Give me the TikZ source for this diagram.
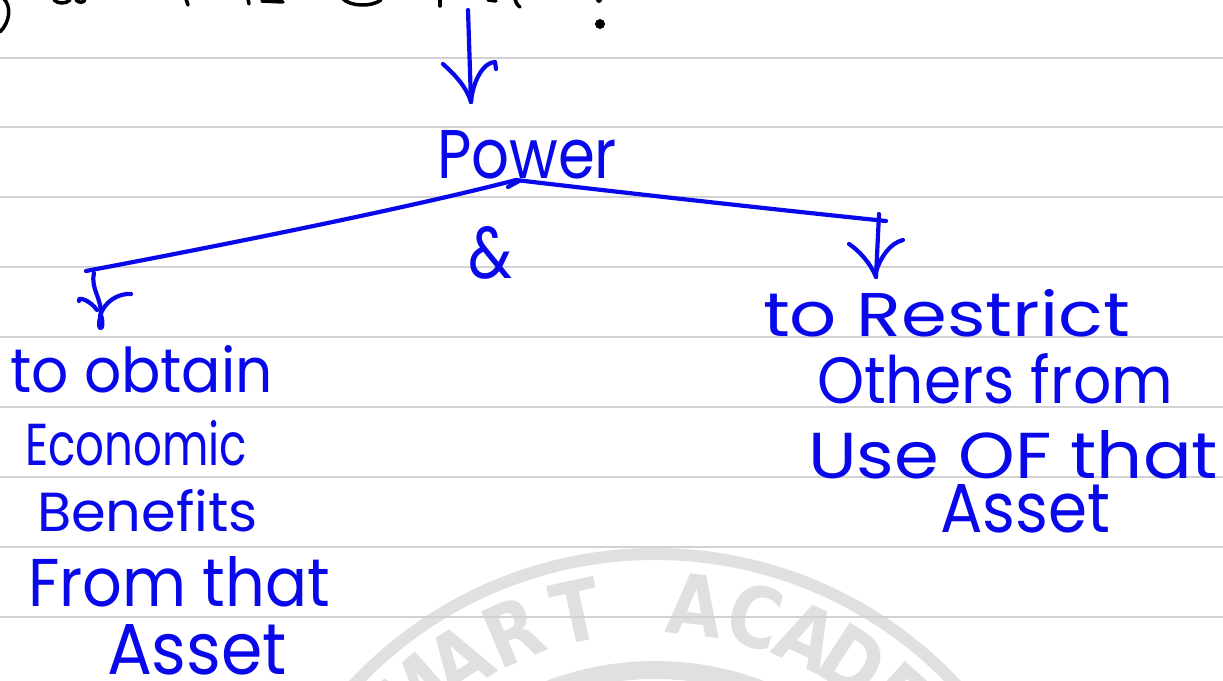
\documentclass[tikz,border=0pt]{standalone}
\usepackage{fontspec}
\setmainfont{Poppins}
\newfontfamily\wmfont{DejaVu Sans}
\usepackage{graphicx}
\definecolor{ink}{RGB}{8,8,235}
\definecolor{ruledgray}{RGB}{210,210,210}
\definecolor{wmgray}{RGB}{224,224,224}
\newcommand{\hw}[3]{\resizebox{#1pt}{#2pt}{#3}}
\begin{document}
\begin{tikzpicture}[x=1pt,y=1pt,
  inkline/.style={draw=ink, line width=4.2pt, line cap=round, line join=round},
  hand/.style={inner sep=0pt, outer sep=0pt, text=ink, anchor=base west},
  wmletter/.style={text=wmgray, anchor=base, inner sep=0pt, font=\wmfont\bfseries\fontsize{84}{84}\selectfont},
  ruled/.style={draw=ruledgray, line width=2pt},
  scribble/.style={draw=black, line width=3.5pt, line cap=round}]
\useasboundingbox (0,-680) rectangle (1223,0);
\clip (0,-680) rectangle (1223,0);
\fill[white] (0,-680) rectangle (1223,0);
% watermark
\coordinate (wmc) at (655,-966);
\draw[wmgray, line width=12pt] (wmc) circle[radius=412];
\draw[wmgray, line width=18pt] (wmc) circle[radius=296];
\foreach \l/\a [count=\i, evaluate=\a as \ang using 90-\a] in {M/-41.5,A/-32.5,R/-23,T/-12.5,A/6.3,C/16,A/24.8,D/33,E/42}
  \node[wmletter, rotate=-\a, xscale=0.85] (wm\i) at ([shift={(\ang:333)}]wmc) {\l};
% ruled lines
\foreach \y in {58,127,197,267,337,407,477,547,617}
  \draw[ruled] (0,-\y) -- (1223,-\y);
% cut-off black writing at the top
\draw[scribble] (3,2) .. controls (12,-6) and (10,-22) .. (0,-32);
\draw[scribble] (54,0) .. controls (58,-4) and (66,-4) .. (70,0);
\draw[scribble] (76,0) .. controls (79,-3) and (83,-3) .. (85,0);
\draw[scribble] (186,1) -- (188,-5);
\draw[scribble] (248,1) -- (249,-4);
\draw[scribble] (262,-1) -- (283,-2);
\draw[scribble] (342,2) .. controls (350,-7) and (372,-7) .. (381,0);
\draw[scribble] (440,1) -- (440,-6);
\draw[scribble] (488,0) -- (496,-1);
\draw[scribble] (515,1) .. controls (516,-3) and (518,-6) .. (520,-7);
\fill[black] (600,-24) circle[radius=5];
\fill[black] (599,0) circle[radius=3];
% blue texts
\node[hand] (power) at (437,-178) {\hw{180}{48}{Power}};
\node[hand] (amp) at (468,-278) {\hw{44}{52}{\&}};
\node[hand] (l1) at (10,-392) {\hw{263}{47}{to obtain}};
\node[hand] (l2) at (25,-465) {\hw{222}{45}{Economic}};
\node[hand] (l3) at (37,-531) {\hw{221}{42}{Benefits}};
\node[hand] (l4) at (28,-606) {\hw{302}{50}{From that}};
\node[hand] (l5) at (107,-674) {\hw{180}{50}{Asset}};
\node[hand] (r1) at (763,-336) {\hw{367}{47}{to Restrict}};
\node[hand] (r2) at (817,-403) {\hw{356}{50}{Others from}};
\node[hand] (r3) at (808,-478) {\hw{410}{48}{Use OF that}};
\node[hand] (r4) at (940,-532) {\hw{170}{48}{Asset}};
% coordinates of connectors
\coordinate (src) at (468,-10);
\coordinate (toptip) at (471,-102);
\coordinate (peak) at (516,-180);
\coordinate (lend) at (86,-271);
\coordinate (rend) at (886,-221);
\coordinate (rtop) at (879,-214);
\coordinate (rtip) at (876,-277);
\coordinate (ltop) at (94,-273);
% top arrow into Power
\draw[inkline] (src) -- (toptip);
\draw[inkline] (443,-64) .. controls (455,-75) and (466,-86) .. (toptip);
\draw[inkline] (496,-69) -- (495,-62) .. controls (484,-62) and (473,-80) .. (toptip);
% branch
\draw[inkline] (lend) .. controls (250,-240) and (420,-205) .. (peak) .. controls (600,-190) and (760,-208) .. (rend);
\draw[inkline] (508,-187) -- (519,-181);
% right arrow
\draw[inkline] (rtop) -- (rtip);
\draw[inkline] (849,-244) .. controls (858,-250) and (870,-262) .. (rtip);
\draw[inkline] (903,-240) .. controls (890,-243) and (880,-258) .. (876,-272);
% left arrow
\draw[inkline] (ltop) .. controls (90,-290) and (104,-300) .. (100,-318) .. controls (96,-332) and (106,-332) .. (101,-315);
\draw[inkline] (79,-301) .. controls (77,-296) and (90,-300) .. (97,-310);
\draw[inkline] (131,-294) .. controls (118,-293) and (104,-302) .. (100,-316);
\end{tikzpicture}
\end{document}
